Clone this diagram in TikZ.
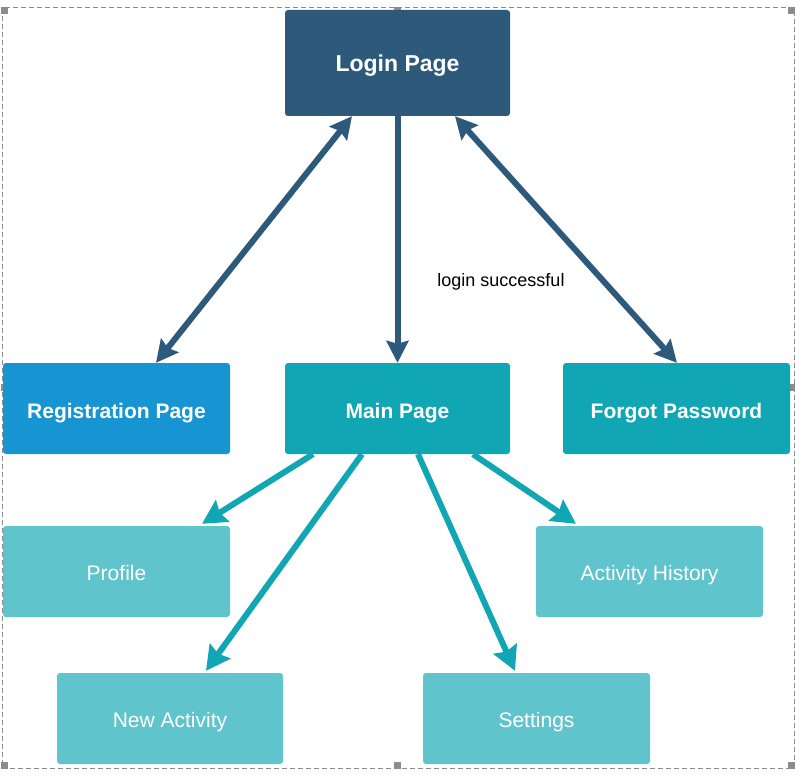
\documentclass[tikz,border=0pt]{standalone}
\usepackage{fontspec}
\setmainfont{Liberation Sans}
\usetikzlibrary{arrows.meta}
\definecolor{loginc}{HTML}{2D5A7B}
\definecolor{regc}{HTML}{1795D2}
\definecolor{tealc}{HTML}{11A6B3}
\definecolor{lightc}{HTML}{60C4CC}
\definecolor{framec}{HTML}{8C8C8C}
\tikzset{
  x=1pt, y=-1pt,
  box/.style={rounded corners=3pt, inner sep=0pt, text=white, align=center,
    text height=24pt, text depth=4pt,
    minimum width=227pt, minimum height=91pt, font=\fontsize{21}{25}\selectfont},
  boldbox/.style={box, font=\bfseries\fontsize{21}{25}\selectfont},
  darrow/.style={draw=loginc, line width=6pt,
    -{Stealth[length=22pt,width=22pt,inset=3pt]}},
  ddarrow/.style={draw=loginc, line width=6pt,
    {Stealth[length=22pt,width=22pt,inset=3pt]}-{Stealth[length=22pt,width=22pt,inset=3pt]}},
  tarrow/.style={draw=tealc, line width=6pt,
    -{Stealth[length=24pt,width=25pt,inset=3pt]}},
  handle/.style={fill=framec, draw=none},
}
\begin{document}
\begin{tikzpicture}
\useasboundingbox (0,0) rectangle (801,781);
\fill[white] (0,0) rectangle (801,781);
% selection frame
\draw[framec, line width=1pt, dash pattern=on 5pt off 3pt] (2,8) rectangle (794,768);
\fill[handle] (1,7) rectangle (8,14);
\fill[handle] (394,7) rectangle (401,14);
\fill[handle] (788,7) rectangle (795,14);
\fill[handle] (1,384) rectangle (8,391);
\fill[handle] (788,384) rectangle (795,391);
\fill[handle] (1,762) rectangle (8,769);
\fill[handle] (394,762) rectangle (401,769);
\fill[handle] (788,762) rectangle (795,769);
% nodes
\node[boldbox, fill=loginc, minimum width=225pt, minimum height=106pt,
  text height=21pt, text depth=4pt,
  font=\bfseries\fontsize{23}{27}\selectfont] (login) at (397.5,63) {Login Page};
\node[boldbox, fill=regc] (reg) at (116.5,408.5) {Registration Page};
\node[boldbox, fill=tealc, minimum width=225pt] (main) at (397.5,408.5) {Main Page};
\node[boldbox, fill=tealc] (forgot) at (676.5,408.5) {Forgot Password};
\node[box, fill=lightc, text height=22pt] (profile) at (116.5,571.5) {Profile};
\node[box, fill=lightc, text height=22pt] (hist) at (649.5,571.5) {Activity History};
\node[box, fill=lightc, minimum width=226pt, text height=22pt] (newact) at (170,718.5) {New Activity};
\node[box, fill=lightc, text height=22pt] (settings) at (536.5,718.5) {Settings};
% connectors
\draw[ddarrow] ([xshift=-45.5pt]login.south) -- ([xshift=39.5pt]reg.north);
\draw[darrow] (login.south) -- (main.north);
\draw[ddarrow] ([xshift=57.5pt]login.south) -- ([xshift=0.5pt]forgot.north);
\node[font=\fontsize{18}{21}\selectfont, text=black, inner sep=0pt] (lbl) at (501,282) {login successful};
\draw[tarrow] ([xshift=-84.5pt]main.south) -- ([xshift=85.5pt,yshift=2pt]profile.north);
\draw[tarrow] ([xshift=-35.5pt]main.south) -- ([xshift=36pt,yshift=2pt]newact.north);
\draw[tarrow] ([xshift=20.5pt]main.south) -- ([xshift=-21.5pt,yshift=2pt]settings.north);
\draw[tarrow] ([xshift=75.5pt]main.south) -- ([xshift=-73.5pt,yshift=2pt]hist.north);
\end{tikzpicture}
\end{document}
